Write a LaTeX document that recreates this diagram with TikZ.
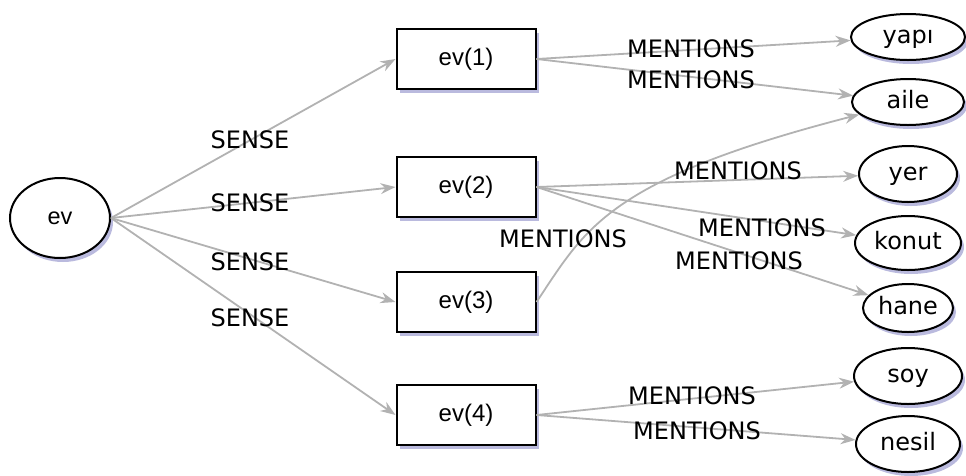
\documentclass[tikz,border=0pt]{standalone}
\usepackage{fontspec}
\setmainfont{DejaVu Sans}
\newfontfamily\boxfont{Liberation Sans}
\usetikzlibrary{shapes.geometric,shadows,arrows.meta}

\begin{document}
\begin{tikzpicture}[x=1pt,y=-1pt,font=\fontsize{24}{28}\selectfont,
    shade/.style={drop shadow={fill=blue!35!gray,opacity=0.4,shadow xshift=3pt,shadow yshift=-4pt}},
    word/.style={draw,ellipse,line width=2pt,fill=white,inner sep=0pt,text height=17pt,text depth=5pt,shade},
    sensebox/.style={draw,rectangle,line width=2pt,fill=white,minimum width=139pt,minimum height=60pt,
        font=\boxfont\fontsize{24}{28}\selectfont,shade},
    link/.style={draw=gray!60,line width=1.8pt,-{Stealth[length=15pt,width=11pt]}}]
    \useasboundingbox (0,0) rectangle (966,475);
    \node[word,minimum width=100pt,minimum height=80pt,font=\boxfont\fontsize{23.5}{28}\selectfont] (ev) at (60,218) {ev};
    % senses
    \foreach \n/\y/\ly in {1/59/140, 2/187/203, 3/302/262, 4/415/318} {
        \node[sensebox] (ev\n) at (466,\y) {ev(\n)};
        \draw[link] (ev.east) -- (ev\n.west);
        \node (sense\n) at (250,\ly) {SENSE};
    }
    % words
    \foreach \name/\txt/\y/\w/\h in {yapi/yapı/37/114/46, aile/aile/102/112/46, yer/yer/174/98/56,
        konut/konut/243/106/54, hane/hane/308/90/48, soy/soy/376/108/56, nesil/nesil/444/104/56} {
        \node[word,minimum width=\w pt,minimum height=\h pt] (\name) at (908,\y) {\txt};
    }
    \foreach \from/\to in {ev1/yapi, ev1/aile, ev2/yer, ev2/konut, ev2/hane, ev4/soy, ev4/nesil} {
        \draw[link] (\from.east) -- (\to);
    }
    \draw[link] (ev3.east) .. controls (585,230) and (605,180) .. (aile);
    % edge labels
    \foreach \m/\x/\y in {1/691/49, 2/691/80, 3/738/171, 4/762/228, 5/739/261, 6/563/239, 7/692/396, 8/697/431} {
        \node (ment\m) at (\x,\y) {MENTIONS};
    }
\end{tikzpicture}
\end{document}
